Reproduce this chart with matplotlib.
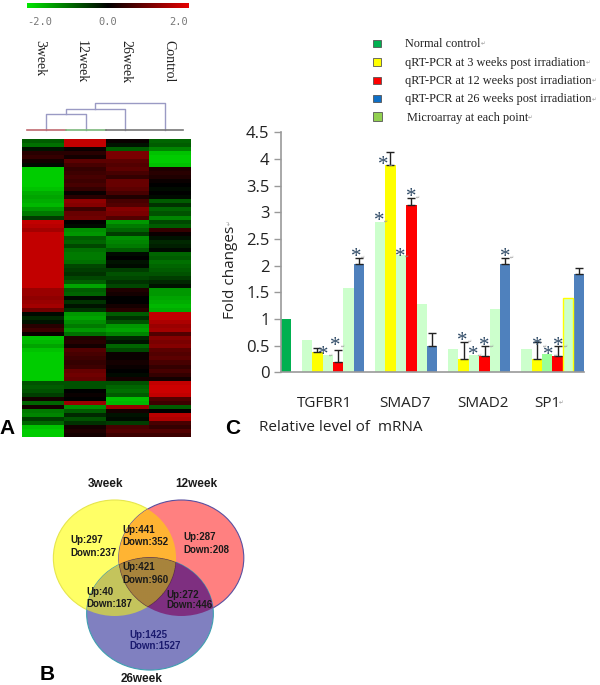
import numpy as np
import matplotlib
matplotlib.use("Agg")
import matplotlib.pyplot as plt
from matplotlib.colors import LinearSegmentedColormap
from matplotlib.patches import Ellipse, Rectangle

W, H = 600, 685

# panel A, heatmap rows read top to bottom
week3 = [-0.9, -1.1, -0.2, 0.4, 0.5, 0.2, -0.1, -2, -2, -2,
         -2, -2, -1.9, -1.7, -1.6, -1.7, -1.8, -1.5, -1.2, -0.6,
         1.9, 1.8, 1.6, 1.9, 1.9, 1.9, 1.9, 1.9, 1.9, 1.9,
         1.9, 1.9, 1.9, 1.9, 1.9, 1.9, 1.9, 1.5, 1.5, 1.4,
         1.5, 1.6, 1.1, -0.1, -0.4, -0.2, 0.4, 0.6, 0.1, -1.9,
         -1.8, -1.6, -1.9, -2, -2, -2, -2, -2, -2, -2,
         -0.8, -0.9, -0.8, -0.6, 0.2, -1, 0.2, -1.2, -1.3, -0.6,
         -1, -1.9, -2, -2]
week12 = [1.9, 1.9, 0.1, 0.4, 0.2, 0.9, 0.7, 0.5, 0.6, 0.7,
          0.6, 0.7, 0.5, 0.1, 0.4, 1.4, 1.3, 0.6, 1.0, 1.1,
          0, -0.1, -1.4, -1.5, -0.9, -1.0, -0.7, -1.1, -1.2, -1.2,
          -1.1, -0.7, -0.6, -0.5, -0.7, -0.9, -1.6, -0.9, -1.0, -0.1,
          -0.5, -0.2, -0.5, -1.5, -1.6, -1.4, -1.2, -1.5, -1.1, 0.3,
          0.4, 0.2, 0.8, 0.7, 0.6, 0.5, 0.6, 1.0, 1.1, 1.0,
          -0.8, -0.8, 0, 0.1, 0, 1.5, -1.4, -0.9, -0.4, -0.8,
          -0.5, 0.2, 0.3, 0.2]
week26 = [0.1, -0.2, -0.9, 1.2, 1.2, 0.9, 0.8, 0.9, 0.7, 0.5,
          1.0, 1.0, 0.9, 0.7, 0.3, 0.7, 0.8, 1.3, 1.2, 0.8,
          -1.5, -1.2, -1.0, -0.6, -1.4, -1.3, -1.2, -0.9, -0.1, 0,
          -0.2, -0.1, -0.6, -0.8, -0.7, -0.5, -0.7, 0.3, 0.2, 0,
          0, 0.2, 0.4, -0.9, -0.5, -0.8, -1.5, -1.6, -1.3, -0.4,
          -0.2, -1.0, -0.7, 0.1, 0.1, 0.2, 0.1, 0, -0.1, 0.2,
          -0.8, -1.0, -1.1, -0.9, -1.9, -1.8, 1.5, 0.2, -0.2, -0.1,
          -0.6, 0.7, 0.8, 0.6]
control = [-1.0, -0.9, -1.3, -1.9, -2, -2, -1.9, 0.3, 0.4, 0.3,
           0.1, 0, -0.1, 0, -0.1, -0.9, -0.5, -1, -0.8, -1.3,
           -0.7, -0.9, 0.5, 0.1, -0.2, -0.4, -0.3, -0.1, -1.0, -0.9,
           -1.1, -1, -0.9, -0.8, -0.6, -0.4, -0.2, -1.5, -1.5, -1.6,
           -1.7, -1.8, -1.7, 1.9, 1.9, 1.7, 1.5, 1.6, 0.8, 1.3,
           1.2, 1.3, 0.9, 0.8, 0.9, 0.7, 0.5, 0.7, 0.5, 0.2,
           1.9, 2, 2, 1.9, 0.8, 0.6, -0.9, 0, 1.8, 1.7,
           0.7, 0.5, 0.8, 0.6]
heat_labels = ["3week", "12week", "26week", "Control"]
scale_labels = ["-2.0", "0.0", "2.0"]

# panel C
genes = ["TGFBR1", "SMAD7", "SMAD2", "SP1"]
normal_value = 1.0
micro_1 = [0.6, 2.82, 0.44, 0.44]
qpcr_3 = [0.38, 3.88, 0.25, 0.25]
micro_2 = [0.32, 2.2, 0.33, 0.34]
qpcr_12 = [0.2, 3.14, 0.3, 0.3]
micro_3 = [1.58, 1.28, 1.18, 1.4]
qpcr_26 = [2.03, 0.5, 2.03, 1.85]
err_3 = [0.07, 0.25, 0.31, 0.31]
err_12 = [0.22, 0.13, 0.2, 0.2]
err_26 = [0.12, 0.23, 0.12, 0.1]
star_slots = [3.6, 4.7, 6.7, 8.9, 9.3, 10.9, 11.95, 16.9, 17.9, 19.0, 20.95, 24.05, 25.1, 26.1]
star_values = [0.41, 0.58, 2.25, 2.92, 3.97, 2.26, 3.37, 0.68, 0.41, 0.58, 2.25, 0.58, 0.41, 0.58]
y_ticks = [0, 0.5, 1, 1.5, 2, 2.5, 3, 3.5, 4, 4.5]
y_tick_labels = ["0", "0.5", "1", "1.5", "2", "2.5", "3", "3.5", "4", "4.5"]
legend_labels = ["Normal control", "qRT-PCR at 3 weeks post irradiation",
                 "qRT-PCR at 12 weeks post irradiation",
                 "qRT-PCR at 26 weeks post irradiation", "Microarray at each point"]

# panel B
venn_titles = ["3week", "12week", "26week"]
venn_up = [297, 441, 287, 421, 40, 272, 1425]
venn_down = [237, 352, 208, 960, 187, 446, 1527]

fig = plt.figure(figsize=(W / 100, H / 100), dpi=100)


def px_axes(x0, y0, x1, y1):
    return fig.add_axes([x0 / W, 1 - y1 / H, (x1 - x0) / W, (y1 - y0) / H])


def return_mark(txt, ax_, xy=(1.0, 0.5), size=4):
    # the small Word paragraph mark that trails many labels
    ax_.annotate("\u21b5", xy=xy, xycoords=txt, fontsize=size, color="#999999", va="center", ha="left")


# full page axes in pixels, for the hand placed parts
page = fig.add_axes([0, 0, 1, 1])
page.set_xlim(0, W)
page.set_ylim(H, 0)
page.axis("off")

# heatmap + colour scale
heat_cmap = LinearSegmentedColormap.from_list("gbr", ["#00cc00", "#000000", "#cc0000"])
bar_cmap = LinearSegmentedColormap.from_list("gbr2", ["#00e600", "#000000", "#e60000"])
ax_heat = px_axes(22, 139.3, 190, 436.7)
ax_heat.imshow(np.array([week3, week12, week26, control]).T, cmap=heat_cmap, vmin=-2, vmax=2,
               aspect="auto", interpolation="nearest")
ax_heat.axis("off")
ax_scale = px_axes(26.7, 2.7, 188.7, 7.7)
ax_scale.imshow(np.linspace(-2, 2, 256)[np.newaxis, :], cmap=bar_cmap, aspect="auto")
ax_scale.axis("off")

for x, s in zip([40, 108, 179], scale_labels):
    page.text(x, 21.5, s, family="DejaVu Sans Mono", fontsize=7.5, color="#777777", ha="center", va="center")
for x, s in zip([39.5, 81, 126, 169], heat_labels):
    page.text(x, 40, s, family="Liberation Serif", fontsize=10, rotation=-90, ha="center", va="top", color="#222222")

# dendrogram
dend_color = "#9a9ac4"
page.plot([46.3, 46.3, 86, 86], [130, 113.7, 113.7, 130], color=dend_color, lw=1)
page.plot([66, 66, 125.3, 125.3], [113.7, 109, 109, 130], color=dend_color, lw=1)
page.plot([95, 95, 164.7, 164.7], [109, 103, 103, 130], color=dend_color, lw=1)
page.plot([26.7, 66], [130, 130], color="#c06a70", lw=1.2)
page.plot([66, 106], [130, 130], color="#7cb87c", lw=1.2)
page.plot([106, 183], [130, 130], color="#777777", lw=1.2)

# bar chart
ax = px_axes(280.7, 132.3, 583.8, 372.3)
starts = np.array([2, 9, 16, 23])
ax.bar([0], [normal_value], width=0.92, color="#00b050")
ax.bar(starts, micro_1, width=1.0, color="#ccffcc")
ax.bar(starts[:3] + 2, micro_2[:3], width=1.0, color="#ccffcc")
ax.bar(starts[3] + 2, micro_2[3], width=1.0, color="#99ff99")
ax.bar(starts[:3] + 4, micro_3[:3], width=1.0, color="#ccffcc")
ax.bar(starts + 1, qpcr_3, width=1.0, color="#ffff00")
ax.bar(starts + 3, qpcr_12, width=1.0, color="#ff0000")
ax.bar(starts + 5, qpcr_26, width=0.95, color="#4f81bd")
ax.bar(starts[3] + 4, micro_3[3], width=0.92, color="#ccffcc", edgecolor="#ffff00", linewidth=1)
for off, vals, errs in [(1, qpcr_3, err_3), (3, qpcr_12, err_12), (5, qpcr_26, err_26)]:
    ax.errorbar(starts + off, vals, yerr=[np.zeros(4), errs], fmt="none", ecolor="#222222",
                elinewidth=1, capsize=3, capthick=1)
for s, v in zip(star_slots, star_values):
    star = ax.text(s, v - 0.1, "*", family="Liberation Serif", fontsize=15, color="#2f4a66", ha="center", va="center")
    return_mark(star, ax, xy=(1.0, 0.55), size=3.5)
ax.set_xlim(-0.5, 28.5)
ax.set_ylim(0, 4.5)
ax.set_yticks(y_ticks)
ax.set_yticklabels(y_tick_labels, family="Open Sans", fontsize=12, color="#222222")
ax.set_xticks([3.73, 11.4, 18.9, 25.0])
ax.set_xticklabels(genes, family="Open Sans", fontsize=11, color="#222222")
ax.tick_params(axis="x", length=0, pad=17)
ax.tick_params(axis="y", length=5, width=1, color="#999999", pad=3)
for side in ["top", "right"]:
    ax.spines[side].set_visible(False)
for side in ["left", "bottom"]:
    ax.spines[side].set_color("#999999")
    ax.spines[side].set_linewidth(1.2)
ax.patch.set_alpha(0)
ax.set_zorder(2)

fold = page.text(230, 272, "Fold changes", family="Open Sans", fontsize=11, rotation=90,
                 ha="center", va="center", color="#222222")
page.annotate("\u21b5", xy=(0.5, 1.0), xycoords=fold, fontsize=4, color="#999999", rotation=90,
              ha="center", va="bottom")
page.text(259, 427, "Relative level of  mRNA", family="Open Sans", fontsize=11, va="center", color="#222222")
page.text(559, 403, "\u21b5", fontsize=4, color="#999999", va="center")

# legend
legend_colors = ["#00b050", "#ffff00", "#ff0000", "#0f6fc6"]
for y, c in zip([43.7, 62, 80.3, 98.3], legend_colors):
    page.add_patch(Rectangle((373.3, y - 3.7), 7.4, 7.4, facecolor=c, edgecolor="#555555", lw=0.6))
page.add_patch(Rectangle((373.3, 111.7), 9, 9.3, facecolor="#92d050", edgecolor="#555555", lw=0.6))
for x, y, s in zip([405, 405, 405, 405, 406.7], [44, 62.7, 81, 99.3, 117.7], legend_labels):
    lab = page.text(x, y, s, family="Liberation Serif", fontsize=8.8, va="center", color="#222222")
    return_mark(lab, page)

# venn diagram, overlaps are clipped copies of the circles
e_y = (114.7, 558, 122.7, 116)
e_r = (181.3, 558, 125, 116)
e_b = (150, 613.7, 126.7, 112.7)


def ell(e, color, clips=(), edge="none"):
    p = Ellipse((e[0], e[1]), e[2], e[3], facecolor=color, edgecolor=edge, lw=0.8)
    page.add_patch(p)
    if clips:
        c = Ellipse((clips[0][0], clips[0][1]), clips[0][2], clips[0][3], transform=page.transData)
        p.set_clip_path(c)
    return p


ell(e_y, "#ffff66", edge="#e6e64d")
ell(e_r, "#ff8080", edge="#5a50a0")
ell(e_b, "#8080c0", edge="#3fa0b0")
ell(e_y, "#ffb433", [e_r])
ell(e_y, "#c4c45c", [e_b])
ell(e_r, "#7e2f80", [e_b])

# centre region needs two clips, so draw it as a masked image of the same colour
xx, yy = np.meshgrid(np.linspace(50, 250, 500), np.linspace(490, 680, 475))


def inside(e):
    return ((xx - e[0]) / (e[2] / 2)) ** 2 + ((yy - e[1]) / (e[3] / 2)) ** 2 <= 1


centre = np.ma.masked_where(~(inside(e_y) & inside(e_r) & inside(e_b)), np.ones_like(xx))
page.imshow(centre, extent=(50, 250, 680, 490), cmap=LinearSegmentedColormap.from_list("c", ["#a8843c", "#a8843c"]),
            aspect="auto", interpolation="bilinear", zorder=1.5)
page.set_xlim(0, W)
page.set_ylim(H, 0)

up_x = [152, 308, 491, 308, 200, 440, 328]
up_y = [240, 210, 232, 322, 396, 405, 525]
down_y = [280, 245, 270, 360, 433, 436, 557]
for i in range(7):
    col = "#1a1a6e" if i == 6 else "#1a1a1a"
    x = 20 + up_x[i] / 3
    page.text(x, 460 + up_y[i] / 3, "Up:%d" % venn_up[i], family="Liberation Sans", weight="bold",
              fontsize=7, va="center", color=col, zorder=3)
    page.text(x, 460 + down_y[i] / 3, "Down:%d" % venn_down[i], family="Liberation Sans", weight="bold",
              fontsize=7, va="center", color=col, zorder=3)
for (x, y), s in zip([(105.7, 484), (196, 484), (141.7, 679)], venn_titles):
    page.text(x, y, s, family="Liberation Sans", weight="bold", fontsize=8.5, ha="center", va="center", color="#1a1a1a")

# panel letters
for (x, y), s in zip([(7.5, 428), (47, 674), (232.7, 428)], ["A", "B", "C"]):
    page.text(x, y, s, family="Liberation Sans", weight="bold", fontsize=15, ha="center", va="center", color="black")

fig.savefig("out.png", dpi=100)
